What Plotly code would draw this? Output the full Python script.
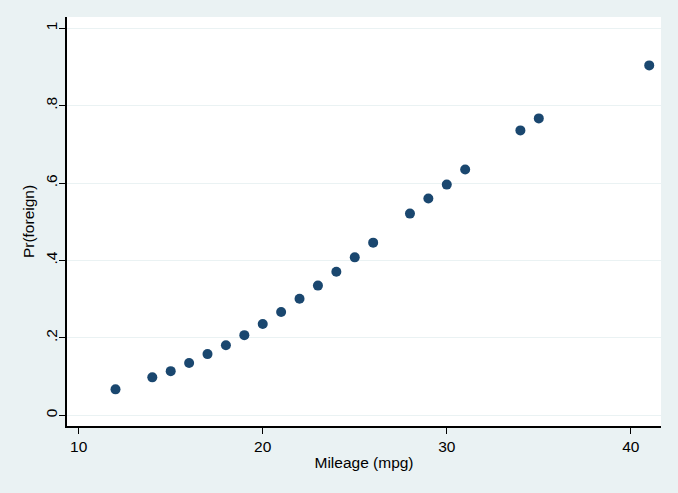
import plotly.graph_objects as go

mpg = [12, 14, 15, 16, 17, 18, 19, 20, 21, 22, 23, 24, 25, 26, 28, 29, 30, 31, 34, 35, 41]
pr_foreign = [0.067, 0.098, 0.114, 0.135, 0.158, 0.181, 0.207, 0.236, 0.267, 0.301, 0.335,
              0.371, 0.408, 0.446, 0.521, 0.560, 0.596, 0.635, 0.736, 0.767, 0.904]
x_ticks = [10, 20, 30, 40]
y_ticks = [0, 0.2, 0.4, 0.6, 0.8, 1]
y_labels = ["0", ".2", ".4", ".6", ".8", "1"]

bg = "#EAF2F3"
font = "Liberation Sans, Arial, sans-serif"

fig = go.Figure(go.Scatter(
    x=mpg, y=pr_foreign, mode="markers",
    marker=dict(color="#1A476F", size=10, line=dict(width=0)),
    showlegend=False,
))

fig.update_layout(
    width=678, height=493,
    paper_bgcolor=bg, plot_bgcolor="white",
    margin=dict(l=67, r=17, t=17, b=67),
    font=dict(family=font, size=15.5, color="black"),
)
fig.update_xaxes(
    range=[9.365, 41.64], tickvals=x_ticks, ticktext=[str(v) for v in x_ticks],
    showgrid=False, zeroline=False,
    showline=True, linecolor="black", linewidth=1.5,
    ticks="outside", ticklen=6, tickcolor="black", tickwidth=1,
    tickfont=dict(size=15.5),
    title=dict(text="Mileage (mpg)", font=dict(size=15.5), standoff=3),
)
fig.update_yaxes(
    range=[-0.0277, 1.029], tickvals=y_ticks, ticktext=y_labels,
    showgrid=True, gridcolor=bg, gridwidth=1, zeroline=False,
    showline=True, linecolor="black", linewidth=1.5,
    ticks="outside", ticklen=6, tickcolor="black", tickwidth=1,
    tickangle=-90, tickfont=dict(size=15.5), ticklabelstandoff=-4,
    title=dict(text="Pr(foreign)", font=dict(size=15.5), standoff=5),
)

fig.write_html("out.html")
